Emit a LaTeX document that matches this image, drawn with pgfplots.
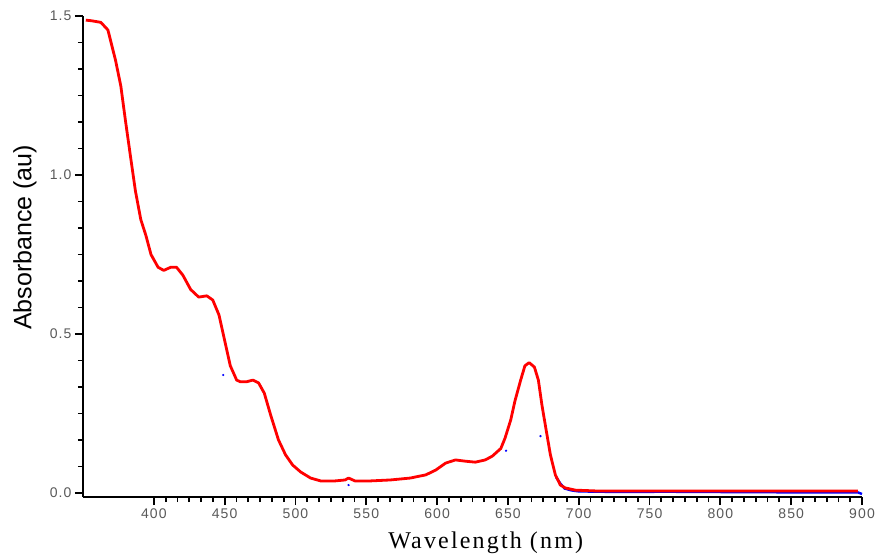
\documentclass[border=0pt]{standalone}
\usepackage{pgfplots}
\pgfplotsset{compat=1.18}
\usepackage{fontspec}
\setmainfont{Liberation Serif}
\newfontfamily\arialfont{Liberation Sans}
\newfontfamily\arialspaced{Liberation Sans}[LetterSpace=8]
\newfontfamily\timesspaced{Liberation Serif}[LetterSpace=9]
\usetikzlibrary{calc}
\begin{document}
\begin{tikzpicture}
\begin{axis}[
  scale only axis, width=779pt, height=481pt,
  xmin=350, xmax=900, ymin=-0.0126, ymax=1.5,
  axis lines*=left,
  every outer x axis line/.append style={-},
  every outer y axis line/.append style={-},
  axis line style={-, line width=2pt, black},
  xtick={400,450,...,900}, minor x tick num=5,
  ytick={0,0.5,1,1.5}, minor y tick num=5,
  tick align=outside,
  major tick length=8pt, minor tick length=5pt,
  tick style={line width=1.8pt, black},
  /pgf/number format/assume math mode=true,
  yticklabel style={/pgf/number format/.cd, fixed, fixed zerofill, precision=1},
  xticklabel style={/pgf/number format/.cd, fixed, precision=0, set thousands separator={}},
  tick label style={font=\arialspaced\fontsize{14}{14}\selectfont, text=black!65},
  xlabel={\timesspaced\fontsize{24}{24}\selectfont Wavelength (nm)},
  xlabel style={at={(axis description cs:0.517,-0.095)}, anchor=center},
  ylabel={\arialfont\fontsize{25}{25}\selectfont Absorbance (au)},
  ylabel style={at={(axis description cs:-0.0745,0.54)}, anchor=center, rotate=0},
  clip=false,
]
% blue series (mostly hidden under red)
\addplot[blue, line width=2.4pt] coordinates {
(684,0.05) (687,0.03) (690,0.014) (695,0.008) (700,0.005) (730,0.003) (760,0.004)
(800,0.003) (850,0.002) (880,0.002) (897,0.002) (900,-0.003)
};
\addplot[blue, only marks, mark=*, mark size=0.9pt] coordinates {
(449,0.371) (537.5,0.025) (648.7,0.133) (673,0.179)
};
% red series
\addplot[red, line width=2.8pt, line join=round] coordinates {
(352,1.487) (356,1.485) (362.6,1.48) (367.6,1.456) (373,1.36) (376.7,1.28)
(380,1.17) (383.8,1.05) (387,0.95) (390.8,0.86) (394.4,0.81) (398,0.75)
(403,0.71) (407,0.70) (412,0.71) (416,0.71) (420.5,0.685) (426,0.64)
(431.7,0.616) (437.4,0.62) (441.6,0.607) (446,0.56) (450,0.48) (454,0.40)
(458.5,0.355) (461,0.35) (465.6,0.35) (470,0.355) (474,0.346) (478,0.314)
(482.5,0.245) (488,0.167) (493,0.12) (498,0.088) (503.7,0.066) (510.7,0.047)
(517.8,0.038) (528,0.038) (535,0.041) (537.5,0.047) (542,0.038) (553,0.038)
(567,0.041) (581,0.047) (592,0.057) (599,0.072) (606,0.094) (613,0.104)
(620,0.10) (627,0.097) (634,0.104) (639,0.116) (645,0.14) (648,0.173)
(652,0.23) (655,0.29) (659,0.355) (662,0.40) (665,0.41) (668.7,0.396)
(671.5,0.355) (674,0.277) (677,0.198) (680,0.12) (683.5,0.057) (687,0.025)
(690.5,0.016) (697.6,0.009) (715,0.006) (786,0.006) (897,0.006)
};
\end{axis}
\pgfresetboundingbox
\path ($(current axis.south west)+(-83pt,-58pt)$) rectangle ($(current axis.north east)+(16pt,16pt)$);
\end{tikzpicture}
\end{document}
